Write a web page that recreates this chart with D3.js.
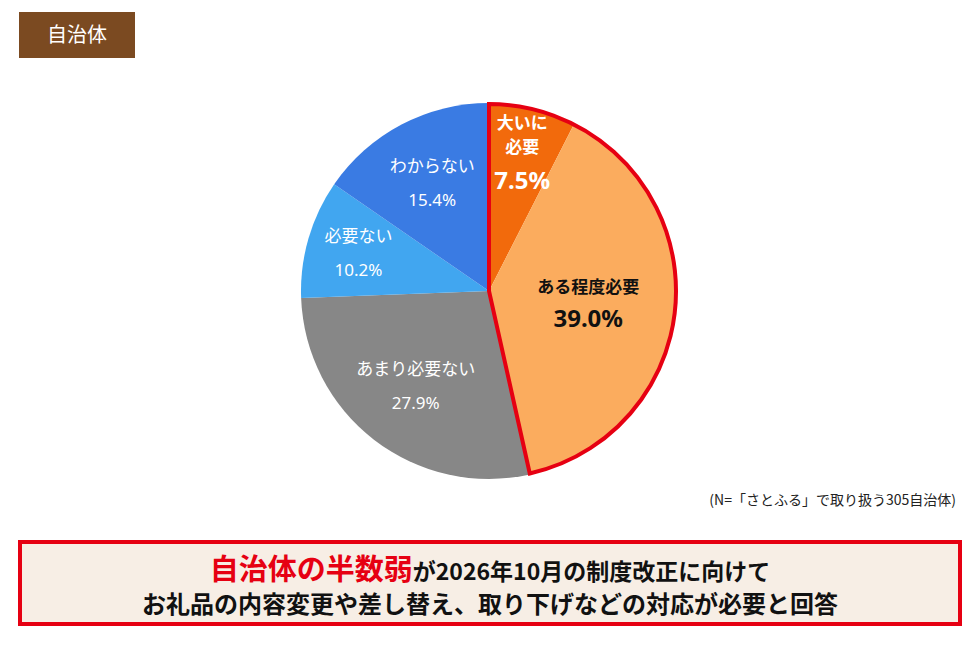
<!DOCTYPE html>
<html><head><meta charset="utf-8">
<script src="https://cdn.jsdelivr.net/npm/d3@7"></script>
<style>body{margin:0;background:#fff;font-family:"Noto Sans CJK JP","Noto Sans",sans-serif;}</style>
</head><body><div id="chart"></div>
<script>
const categories = ["大いに必要", "ある程度必要", "あまり必要ない", "必要ない", "わからない"];
const labelLines = [["大いに", "必要"], ["ある程度必要"], ["あまり必要ない"], ["必要ない"], ["わからない"]];
const values = [7.5, 39.0, 27.9, 10.2, 15.4];
const colors = ["#f26a0c", "#fbac5e", "#878787", "#41a6f0", "#3a7be3"];

const width = 980, height = 658;
const cx = 489, cy = 291, r = 188;
const labelR = [142, 100, 120, 136, 122];

const svg = d3.select("#chart").append("svg")
    .attr("width", width).attr("height", height);

// header tag
svg.append("rect").attr("x", 19).attr("y", 12).attr("width", 116).attr("height", 46).attr("fill", "#7b4a21");
svg.append("text").attr("x", 77).attr("y", 42).attr("text-anchor", "middle")
    .attr("fill", "#fff").attr("font-size", 20).text("自治体");

const pie = d3.pie().sort(null).value(d => d);
const arcs = pie(values);
const arc = d3.arc().innerRadius(0).outerRadius(r);
const g = svg.append("g").attr("transform", `translate(${cx},${cy})`);

g.selectAll("path.slice").data(arcs).enter().append("path")
    .attr("class", "slice")
    .attr("d", arc)
    .attr("fill", (d, i) => colors[i]);

// red outline around the two "needed" slices
const hl = { startAngle: arcs[0].startAngle, endAngle: arcs[1].endAngle };
g.append("path").attr("d", d3.arc().innerRadius(0).outerRadius(r - 1)(hl))
    .attr("fill", "none").attr("stroke", "#e60012").attr("stroke-width", 4);

arcs.forEach((d, i) => {
    const p = d3.arc().innerRadius(labelR[i]).outerRadius(labelR[i]).centroid(d);
    const strong = i < 2;
    const fill = i === 1 ? "#111" : "#fff";
    const t = g.append("text").attr("text-anchor", "middle").attr("fill", fill);
    const lines = labelLines[i];
    const lh = i === 0 ? 24 : 22;
    const valSize = strong ? 24 : 17;
    const total = lines.length * lh + 32;
    let y = p[1] - total / 2 + 16;
    lines.forEach(l => {
        t.append("tspan").attr("x", p[0]).attr("y", y)
            .attr("font-size", 17).attr("font-weight", strong ? "bold" : "normal").text(l);
        y += lh;
    });
    t.append("tspan").attr("x", p[0]).attr("y", y + 12)
        .attr("font-size", valSize).attr("font-weight", strong ? "bold" : "normal")
        .attr("font-family", "'Noto Sans', sans-serif")
        .text(values[i].toFixed(1) + "%");
});

svg.append("text").attr("x", 956).attr("y", 505).attr("text-anchor", "end")
    .attr("font-size", 14).attr("fill", "#222")
    .text("(N=「さとふる」で取り扱う305自治体)");

// summary box
svg.append("rect").attr("x", 20).attr("y", 542).attr("width", 940).attr("height", 82)
    .attr("fill", "#f7eee5").attr("stroke", "#e60012").attr("stroke-width", 4);
const t1 = svg.append("text").attr("x", 490).attr("y", 580).attr("text-anchor", "middle")
    .attr("font-weight", "bold").attr("fill", "#111");
t1.append("tspan").attr("fill", "#e60012").attr("font-size", 29).text("自治体の半数弱");
t1.append("tspan").attr("font-size", 23).text("が2026年10月の制度改正に向けて");
svg.append("text").attr("x", 490).attr("y", 613).attr("text-anchor", "middle")
    .attr("font-weight", "bold").attr("font-size", 24).attr("fill", "#111")
    .text("お礼品の内容変更や差し替え、取り下げなどの対応が必要と回答");
</script></body></html>
